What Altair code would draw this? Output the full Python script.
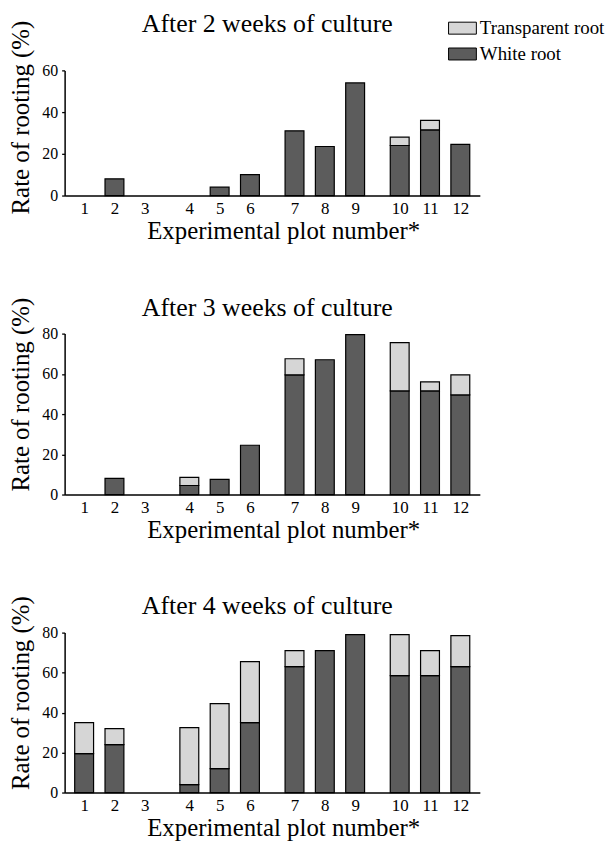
import altair as alt
import pandas as pd

# ---- data ----
plots = [1, 2, 3, 4, 5, 6, 7, 8, 9, 10, 11, 12]
white_2w = [0, 8, 0, 0, 4, 10, 31, 23.5, 54, 24, 31.5, 24.5]
total_2w = [0, 8, 0, 0, 4, 10, 31, 23.5, 54, 28, 36, 24.5]
white_3w = [0, 8, 0, 4.5, 7.5, 24.5, 59.5, 67, 79.5, 51.5, 51.5, 49.5]
total_3w = [0, 8, 0, 8.5, 7.5, 24.5, 67.5, 67, 79.5, 75.5, 56, 59.5]
white_4w = [19.5, 24, 0, 4, 12, 35, 63, 71, 79, 58.5, 58.5, 63]
total_4w = [35, 32, 0, 32.5, 44.5, 65.5, 71, 71, 79, 79, 71, 78.5]
root_types = ["Transparent root", "White root"]
root_colors = ["#d6d6d6", "#5c5c5c"]

GAP = 0.47  # extra space between groups of three plots
FONT = "Liberation Serif"

def xpos(p):
    return p + GAP * ((p - 1) // 3)

positions = [xpos(p) for p in plots]
label_expr = f"round(datum.value - {GAP}*floor((datum.value - 1 + 0.01)/{3 + GAP}))"

legend = alt.Legend(
    title=None, orient="none", legendX=386, legendY=-57,
    symbolType="M-1,-0.43H1V0.43H-1Z", symbolSize=784,
    symbolStrokeColor="black", symbolStrokeWidth=1, symbolOpacity=1,
    labelFont=FONT, labelFontSize=19, labelColor="black",
    labelOffset=3, rowPadding=1, labelLimit=0, padding=0,
)


def panel(title, white, total, ymax, height, title_offset, ytitle_shift, show_legend):
    rows = []
    for p, w, t in zip(plots, white, total):
        if w > 0:
            rows.append(dict(pos=xpos(p), root="White root", lo=0, hi=w))
        if t > w:
            rows.append(dict(pos=xpos(p), root="Transparent root", lo=w, hi=t))
    df = pd.DataFrame(rows)
    return alt.Chart(df).mark_bar(size=19, stroke="black", strokeWidth=1.2, opacity=1).encode(
        x=alt.X("pos:Q",
                scale=alt.Scale(domain=[0.52, 13.89], nice=False, zero=False),
                axis=alt.Axis(values=positions, labelExpr=label_expr,
                              title="Experimental plot number*", ticks=False,
                              grid=False, labelFontSize=17, labelPadding=5,
                              titleX=220, titlePadding=2)),
        y=alt.Y("lo:Q",
                scale=alt.Scale(domain=[0, ymax], nice=False),
                axis=alt.Axis(values=list(range(0, ymax + 1, 20)),
                              title="Rate of rooting (%)", grid=False,
                              tickSize=3, labelPadding=4, labelFontSize=16,
                              titlePadding=8, titleY=height / 2 - ytitle_shift)),
        y2="hi:Q",
        color=alt.Color("root:N",
                        scale=alt.Scale(domain=root_types, range=root_colors),
                        legend=legend if show_legend else None),
    ).properties(
        width=418, height=height,
        title=alt.TitleParams(title, font=FONT, fontSize=26, fontWeight="normal",
                              color="black", anchor="middle", dx=-5,
                              offset=title_offset),
    )


p1 = panel("After 2 weeks of culture", white_2w, total_2w, 60, 126, -23, 16, True)
p2 = panel("After 3 weeks of culture", white_3w, total_3w, 80, 162, -23.5, 20, False)
p3 = panel("After 4 weeks of culture", white_4w, total_4w, 80, 161, -23.5, 20, False)

chart = alt.vconcat(p1, p2, p3, spacing=51).resolve_legend(
    color="independent"
).properties(padding=0).configure_view(stroke=None).configure_axis(
    labelFont=FONT, titleFont=FONT, titleFontSize=25, titleFontWeight="normal",
    labelColor="black", titleColor="black", domainColor="black",
    tickColor="black", domainWidth=1.5, tickWidth=1.3,
)

chart.save("out.html", embed_options={"renderer": "svg", "actions": False})
